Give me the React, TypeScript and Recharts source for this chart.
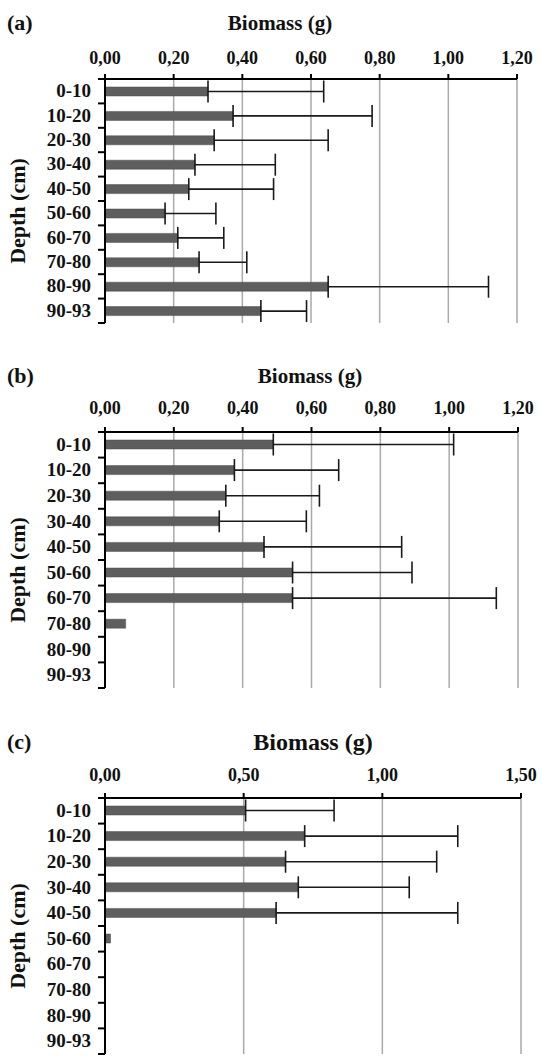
import React from 'react';
import { BarChart, Bar, XAxis, YAxis, CartesianGrid, ErrorBar } from 'recharts';

// depth classes (cm)
const depths = ['0-10', '10-20', '20-30', '30-40', '40-50', '50-60', '60-70', '70-80', '80-90', '90-93'];

// panel (a)
const meanA = [0.3, 0.373, 0.318, 0.262, 0.244, 0.175, 0.212, 0.274, 0.65, 0.454];
const errA = [0.337, 0.405, 0.332, 0.234, 0.247, 0.148, 0.134, 0.139, 0.467, 0.133];

// panel (b)
const meanB = [0.489, 0.376, 0.351, 0.332, 0.462, 0.545, 0.545, 0.06, 0, 0];
const errB = [0.524, 0.303, 0.272, 0.253, 0.4, 0.347, 0.592, null, null, null];

// panel (c)
const meanC = [0.507, 0.72, 0.651, 0.697, 0.617, 0.02, 0, 0, 0, 0];
const errC = [0.319, 0.552, 0.545, 0.4, 0.655, null, null, null, null, null];

const ticksAB = [0, 0.2, 0.4, 0.6, 0.8, 1.0, 1.2];
const ticksC = [0, 0.5, 1.0, 1.5];

const FONT = 'Liberation Serif, DejaVu Serif, serif';
const PLOT_LEFT = 105;

const fmt = (v: number) => v.toFixed(2).replace('.', ',');

function buildRows(mean: number[], err: (number | null)[]) {
  return depths.map((d, i) => ({
    depth: d,
    mean: mean[i],
    err: err[i] == null ? null : [0, err[i]],
  }));
}

function DepthTick(props: any) {
  const { y, payload, index, band } = props;
  return (
    <g>
      <text
        x={PLOT_LEFT - 14}
        y={y}
        dy={6}
        textAnchor="end"
        fontFamily={FONT}
        fontWeight="bold"
        fontSize={19}
        fill="#111"
      >
        {payload.value}
      </text>
      <line x1={PLOT_LEFT - 7} x2={PLOT_LEFT} y1={y - band / 2} y2={y - band / 2} stroke="#000" strokeWidth={2} />
      {index === depths.length - 1 && (
        <line x1={PLOT_LEFT - 7} x2={PLOT_LEFT} y1={y + band / 2} y2={y + band / 2} stroke="#000" strokeWidth={2} />
      )}
    </g>
  );
}

interface PanelProps {
  letter: string;
  top: number;
  height: number;
  marginTop: number;
  marginBottom: number;
  marginRight: number;
  tickMargin: number;
  titleX: number;
  titleSize: number;
  mean: number[];
  err: (number | null)[];
  max: number;
  ticks: number[];
}

function Panel(p: PanelProps) {
  const rows = buildRows(p.mean, p.err);
  const plotTop = p.marginTop + 30;
  const plotH = p.height - plotTop - p.marginBottom;
  const band = plotH / depths.length;
  return (
    <div style={{ position: 'absolute', left: 0, top: p.top, width: 542, height: p.height }}>
      <div
        style={{
          position: 'absolute', left: 7, top: plotTop - 56, transform: 'translateY(-50%)',
          fontFamily: FONT, fontWeight: 'bold', fontSize: 22, lineHeight: 1, color: '#111',
        }}
      >
        {p.letter}
      </div>
      <div
        style={{
          position: 'absolute', left: p.titleX, top: plotTop - 56, transform: 'translate(-50%, -50%)',
          fontFamily: FONT, fontWeight: 'bold', fontSize: p.titleSize, lineHeight: 1, color: '#111', whiteSpace: 'nowrap',
        }}
      >
        Biomass (g)
      </div>
      <div
        style={{
          position: 'absolute', left: 18, top: plotTop + plotH / 2 + 10,
          transform: 'translate(-50%, -50%) rotate(-90deg)',
          fontFamily: FONT, fontWeight: 'bold', fontSize: 22, lineHeight: 1, color: '#111', whiteSpace: 'nowrap',
        }}
      >
        Depth (cm)
      </div>
      <BarChart
        width={542}
        height={p.height}
        data={rows}
        layout="vertical"
        barCategoryGap={0}
        margin={{ top: p.marginTop, right: p.marginRight, bottom: p.marginBottom, left: 0 }}
      >
        <CartesianGrid horizontal={false} stroke="#a9a9a9" strokeWidth={1.5} />
        <XAxis
          type="number"
          orientation="top"
          domain={[0, p.max]}
          ticks={p.ticks}
          interval={0}
          height={30}
          tickFormatter={fmt}
          tickSize={5}
          tickMargin={p.tickMargin}
          axisLine={{ stroke: '#000', strokeWidth: 2 }}
          tickLine={{ stroke: '#000', strokeWidth: 2 }}
          tick={{ fontFamily: FONT, fontWeight: 'bold', fontSize: 18, fill: '#111' }}
        />
        <YAxis
          type="category"
          dataKey="depth"
          width={PLOT_LEFT}
          interval={0}
          tickLine={false}
          axisLine={{ stroke: '#000', strokeWidth: 2 }}
          tick={<DepthTick band={band} />}
        />
        <Bar dataKey="mean" fill="#5e5e5e" stroke="#4a4a4a" strokeWidth={0.5} barSize={9} isAnimationActive={false}>
          <ErrorBar dataKey="err" direction="x" width={11} stroke="#1a1a1a" strokeWidth={1.6} />
        </Bar>
      </BarChart>
    </div>
  );
}

export default function App() {
  return (
    <div style={{ position: 'absolute', left: 0, top: 0, width: 542, height: 1056, background: '#fff' }}>
      <Panel letter="(a)" top={0} height={330} marginTop={49} marginBottom={7} marginRight={25}
        tickMargin={10} titleX={280} titleSize={21} mean={meanA} err={errA} max={1.2} ticks={ticksAB} />
      <Panel letter="(b)" top={340} height={355} marginTop={62} marginBottom={7} marginRight={24}
        tickMargin={13} titleX={310} titleSize={21} mean={meanB} err={errB} max={1.2} ticks={ticksAB} />
      <Panel letter="(c)" top={700} height={356} marginTop={68} marginBottom={2} marginRight={21}
        tickMargin={12} titleX={313} titleSize={24} mean={meanC} err={errC} max={1.5} ticks={ticksC} />
    </div>
  );
}
